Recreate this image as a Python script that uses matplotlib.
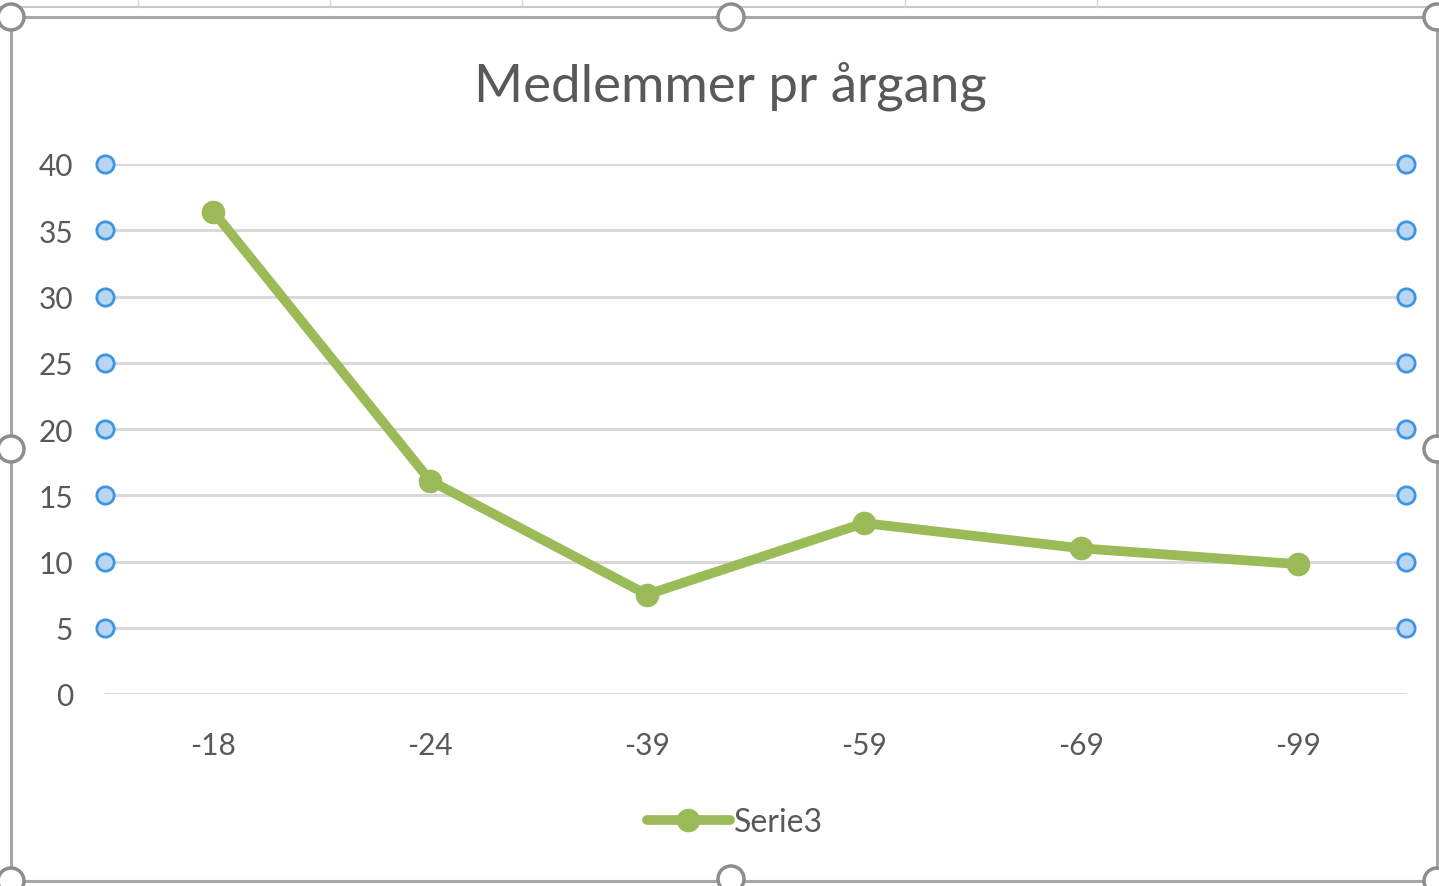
import numpy as np
import matplotlib
matplotlib.use("Agg")
import matplotlib.pyplot as plt
from matplotlib.patches import Rectangle, Ellipse

# data
CATS = ["-18", "-24", "-39", "-59", "-69", "-99"]
SERIE3 = [36.4, 16.1, 7.5, 12.9, 11.0, 9.8]
YTICKS = [0, 5, 10, 15, 20, 25, 30, 35, 40]

W, H = 1439, 887
GREEN = "#9bbb59"
TXT = "#595959"
GRID = "#d9d9d9"

plt.rcParams["font.family"] = ["Lato", "DejaVu Sans"]

fig = plt.figure(figsize=(W / 100, H / 100), dpi=100)
fig.patch.set_facecolor("white")

def fx(px): return px / W
def fy(py): return 1 - py / H

ax = fig.add_axes([fx(105), fy(695), fx(1406) - fx(105), fy(165) - fy(695)])
x = np.arange(len(CATS))
ax.set_xlim(-0.5, len(CATS) - 0.5)
ax.set_ylim(0, 40)
for t in YTICKS:
    ax.axhline(t, color=GRID, lw=2.2, zorder=1)
ax.plot(x, SERIE3, color=GREEN, lw=7, marker="o", ms=16, solid_capstyle="round",
        zorder=3, label="Serie3")
# gridline selection handles
hy = YTICKS[1:]
for xe in (-0.5, len(CATS) - 0.5):
    ax.plot([xe] * len(hy), hy, ls="none", marker="o", ms=12.5, mfc="#b7d6f2",
            mec="#3d95e3", mew=2, clip_on=False, zorder=4)
ax.set_xticks(x)
ax.set_xticklabels(CATS)
ax.set_yticks(YTICKS)
ax.tick_params(length=0, labelsize=21.5, labelcolor=TXT)
ax.tick_params(axis="y", pad=23)
ax.tick_params(axis="x", pad=27)
for s in ax.spines.values():
    s.set_visible(False)

fig.text(fx(730), fy(86), "Medlemmer pr årgang", ha="center", va="center",
         fontsize=38, color=TXT)

leg = fig.legend(loc="center", bbox_to_anchor=(fx(735), fy(823)), frameon=False,
                 fontsize=23, labelcolor=TXT, handlelength=2.6, handletextpad=0.15)

# spreadsheet lines above and chart frame with selection handles
fig.add_artist(plt.Line2D([0, 1], [fy(8), fy(8)], color="#c8c8c8", lw=1.5))
for cx in (138, 330, 522, 905, 1097):
    fig.add_artist(plt.Line2D([fx(cx), fx(cx)], [fy(0), fy(8)], color="#d4d4d4", lw=1))
fig.add_artist(Rectangle((fx(11), fy(882)), fx(1437) - fx(11), fy(18) - fy(882),
                         fill=False, ec="#a6a6a6", lw=2.2))
for hx, hyy in [(11, 18), (731, 18), (1437, 18), (11, 450), (1437, 450),
                (11, 882), (731, 880), (1437, 882)]:
    fig.add_artist(Ellipse((fx(hx), fy(hyy)), 26 / W, 26 / H, transform=fig.transFigure,
                           fc="white", ec="#8c8c8c", lw=2.5, zorder=10))

fig.savefig("out.png", dpi=100)
